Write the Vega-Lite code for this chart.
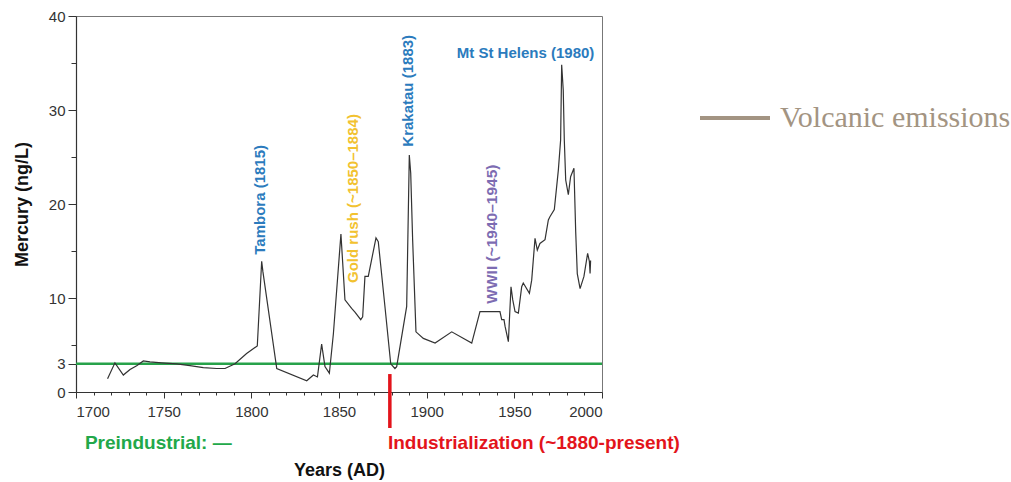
{
  "$schema": "https://vega.github.io/schema/vega-lite/v6.json",
  "width": 526,
  "height": 376,
  "autosize": {"type": "none"},
  "padding": {"left": 76, "top": 16, "right": 409, "bottom": 90},
  "background": "white",
  "config": {
    "view": {"stroke": "#777777", "strokeWidth": 1},
    "font": "Liberation Sans",
    "axis": {"grid": false, "labelFont": "Liberation Sans", "labelFontSize": 15, "labelColor": "#333333", "tickColor": "#333333", "domainColor": "#333333", "tickWidth": 1, "domainWidth": 1.2, "titleFont": "Liberation Sans", "titleFontSize": 18, "titleFontWeight": "bold", "titleColor": "#111111"}
  },
  "datasets": {
    "mercury": [
      {"year": 1718.0, "hg": 1.4}, {"year": 1722.2, "hg": 3.1}, {"year": 1727.0, "hg": 1.8}, {"year": 1730.8, "hg": 2.4},
      {"year": 1734.6, "hg": 2.8}, {"year": 1738.4, "hg": 3.3}, {"year": 1742.2, "hg": 3.2}, {"year": 1748.9, "hg": 3.1},
      {"year": 1757.4, "hg": 3.0}, {"year": 1765.0, "hg": 2.8}, {"year": 1772.6, "hg": 2.6}, {"year": 1780.2, "hg": 2.5},
      {"year": 1785.0, "hg": 2.5}, {"year": 1790.7, "hg": 3.0}, {"year": 1797.3, "hg": 4.1}, {"year": 1803.4, "hg": 4.9},
      {"year": 1805.9, "hg": 13.9}, {"year": 1806.6, "hg": 12.8}, {"year": 1814.5, "hg": 2.5}, {"year": 1831.6, "hg": 1.2},
      {"year": 1835.4, "hg": 1.8}, {"year": 1837.7, "hg": 1.6}, {"year": 1840.1, "hg": 5.1}, {"year": 1842.0, "hg": 2.7},
      {"year": 1844.5, "hg": 2.0}, {"year": 1846.8, "hg": 6.2}, {"year": 1851.1, "hg": 16.8}, {"year": 1853.4, "hg": 9.8},
      {"year": 1857.2, "hg": 8.9}, {"year": 1859.1, "hg": 8.5}, {"year": 1862.4, "hg": 7.7}, {"year": 1863.5, "hg": 8.0},
      {"year": 1864.8, "hg": 12.3}, {"year": 1866.7, "hg": 12.3}, {"year": 1871.1, "hg": 16.4}, {"year": 1872.4, "hg": 16.0},
      {"year": 1876.2, "hg": 9.1}, {"year": 1879.5, "hg": 3.0}, {"year": 1881.9, "hg": 2.5}, {"year": 1882.9, "hg": 2.7},
      {"year": 1888.6, "hg": 9.1}, {"year": 1890.1, "hg": 25.2}, {"year": 1890.9, "hg": 23.3}, {"year": 1892.0, "hg": 16.2},
      {"year": 1893.9, "hg": 6.4}, {"year": 1898.1, "hg": 5.7}, {"year": 1904.8, "hg": 5.2}, {"year": 1914.3, "hg": 6.4},
      {"year": 1925.7, "hg": 5.2}, {"year": 1930.4, "hg": 8.55}, {"year": 1941.8, "hg": 8.55}, {"year": 1942.8, "hg": 7.7},
      {"year": 1944.1, "hg": 7.7}, {"year": 1944.7, "hg": 7.0}, {"year": 1946.6, "hg": 5.35}, {"year": 1948.1, "hg": 11.2},
      {"year": 1949.1, "hg": 9.8}, {"year": 1950.4, "hg": 8.55}, {"year": 1952.3, "hg": 8.4}, {"year": 1954.2, "hg": 11.2},
      {"year": 1955.1, "hg": 11.6}, {"year": 1958.6, "hg": 10.5}, {"year": 1959.9, "hg": 11.9}, {"year": 1961.8, "hg": 16.35},
      {"year": 1963.1, "hg": 15.1}, {"year": 1964.6, "hg": 15.8}, {"year": 1967.5, "hg": 16.2}, {"year": 1969.4, "hg": 18.3},
      {"year": 1970.3, "hg": 18.65}, {"year": 1972.8, "hg": 19.4}, {"year": 1975.1, "hg": 23.6}, {"year": 1976.4, "hg": 26.8},
      {"year": 1977.0, "hg": 34.8}, {"year": 1977.9, "hg": 32.1}, {"year": 1978.5, "hg": 26.8}, {"year": 1979.3, "hg": 22.55},
      {"year": 1980.8, "hg": 21.0}, {"year": 1982.1, "hg": 22.9}, {"year": 1984.0, "hg": 23.8}, {"year": 1985.0, "hg": 17.05},
      {"year": 1985.9, "hg": 12.6}, {"year": 1987.5, "hg": 11.0}, {"year": 1989.7, "hg": 12.3}, {"year": 1991.8, "hg": 14.75},
      {"year": 1992.8, "hg": 13.9}, {"year": 1993.2, "hg": 12.6}, {"year": 1993.5, "hg": 14.0}
    ]
  },
  "resolve": {"axis": {"x": "independent", "y": "independent"}},
  "layer": [
    {
      "data": {"values": [{"base": 3}]},
      "mark": {"type": "rule", "color": "#27a24a", "strokeWidth": 2.5},
      "encoding": {"y": {"field": "base", "type": "quantitative", "scale": {"domain": [0, 40], "nice": false, "zero": false}, "axis": {"orient": "left", "values": [5, 15, 25, 35], "labels": false, "tickSize": 5, "domain": false, "title": null}}}
    },
    {
      "data": {"name": "mercury"},
      "mark": {"type": "line", "strokeWidth": 1.2, "color": "#333333", "clip": false},
      "encoding": {
        "x": {"field": "year", "type": "quantitative", "scale": {"domain": [1700, 2000], "nice": false, "zero": false},
          "axis": {"orient": "bottom", "values": [1700, 1750, 1800, 1850, 1900, 1950, 2000], "format": "d", "tickSize": 6, "labelPadding": 6, "title": "Years (AD)", "titleX": 263, "titleY": 78, "titleBaseline": "middle"}},
        "y": {"field": "hg", "type": "quantitative",
          "axis": {"orient": "left", "values": [0, 3, 10, 20, 30, 40], "tickSize": 8, "labelPadding": 3, "title": "Mercury (ng/L)", "titleX": -54, "titleY": 188, "titleBaseline": "middle", "titleAngle": 270}}
      }
    },
    {
      "data": {"values": []},
      "mark": {"type": "rule", "strokeWidth": 4},
      "encoding": {
        "color": {"datum": "Volcanic emissions", "scale": {"range": ["#a39482"]},
          "legend": {"title": null, "orient": "none", "legendX": 622, "legendY": 65, "symbolType": "stroke", "symbolSize": 4900, "symbolStrokeWidth": 4, "labelFont": "Liberation Serif", "labelFontSize": 30, "labelColor": "#a39482", "labelOffset": 8, "labelLimit": 400}}
      }
    },
    {
      "data": {"values": [{"year": 1879, "top": 1.91, "bottom": -3.83}]},
      "mark": {"type": "rule", "color": "#e3141b", "strokeWidth": 3.5, "clip": false},
      "encoding": {
        "x": {"field": "year", "type": "quantitative", "axis": {"orient": "bottom", "values": [1710, 1720, 1730, 1740, 1760, 1770, 1780, 1790, 1810, 1820, 1830, 1840, 1860, 1870, 1880, 1890, 1910, 1920, 1930, 1940, 1960, 1970, 1980, 1990], "labels": false, "tickSize": 3, "domain": false, "title": null}},
        "y": {"field": "top", "type": "quantitative", "axis": null},
        "y2": {"field": "bottom"}
      }
    },
    {
      "data": {"values": [
        {"label": "Tambora (1815)", "year": 1804.9, "hg": 14.6},
        {"label": "Krakatau (1883)", "year": 1889.5, "hg": 26.1}
      ]},
      "mark": {"type": "text", "angle": 270, "align": "left", "baseline": "middle", "fontSize": 15, "fontWeight": "bold", "font": "Liberation Sans", "color": "#2b7bbd"},
      "encoding": {
        "x": {"field": "year", "type": "quantitative", "axis": null},
        "y": {"field": "hg", "type": "quantitative", "axis": null},
        "text": {"field": "label"}
      }
    },
    {
      "data": {"values": [{"label": "Gold rush (~1850–1884)", "year": 1858.0, "hg": 11.6}]},
      "mark": {"type": "text", "angle": 270, "align": "left", "baseline": "middle", "fontSize": 15, "fontWeight": "bold", "font": "Liberation Sans", "color": "#f2c230"},
      "encoding": {
        "x": {"field": "year", "type": "quantitative", "axis": null},
        "y": {"field": "hg", "type": "quantitative", "axis": null},
        "text": {"field": "label"}
      }
    },
    {
      "data": {"values": [{"label": "WWII (~1940–1945)", "year": 1937.1, "hg": 9.4}]},
      "mark": {"type": "text", "angle": 270, "align": "left", "baseline": "middle", "fontSize": 15.5, "fontWeight": "bold", "font": "Liberation Sans", "color": "#7d6cb2"},
      "encoding": {
        "x": {"field": "year", "type": "quantitative", "axis": null},
        "y": {"field": "hg", "type": "quantitative", "axis": null},
        "text": {"field": "label"}
      }
    },
    {
      "data": {"values": [{"label": "Mt St Helens (1980)", "year": 1956.4, "hg": 36.1}]},
      "mark": {"type": "text", "align": "center", "baseline": "middle", "fontSize": 15, "fontWeight": "bold", "font": "Liberation Sans", "color": "#2b7bbd"},
      "encoding": {
        "x": {"field": "year", "type": "quantitative", "axis": null},
        "y": {"field": "hg", "type": "quantitative", "axis": null},
        "text": {"field": "label"}
      }
    },
    {
      "data": {"values": [{"label": "Preindustrial: —", "year": 1705.1, "hg": -5.43}]},
      "mark": {"type": "text", "align": "left", "baseline": "middle", "fontSize": 19, "fontWeight": "bold", "font": "Liberation Sans", "color": "#22a84a", "clip": false},
      "encoding": {
        "x": {"field": "year", "type": "quantitative", "axis": null},
        "y": {"field": "hg", "type": "quantitative", "axis": null},
        "text": {"field": "label"}
      }
    },
    {
      "data": {"values": [{"label": "Industrialization (~1880-present)", "year": 1877.9, "hg": -5.43}]},
      "mark": {"type": "text", "align": "left", "baseline": "middle", "fontSize": 19, "fontWeight": "bold", "font": "Liberation Sans", "color": "#e3141b", "clip": false},
      "encoding": {
        "x": {"field": "year", "type": "quantitative", "axis": null},
        "y": {"field": "hg", "type": "quantitative", "axis": null},
        "text": {"field": "label"}
      }
    }
  ]
}
